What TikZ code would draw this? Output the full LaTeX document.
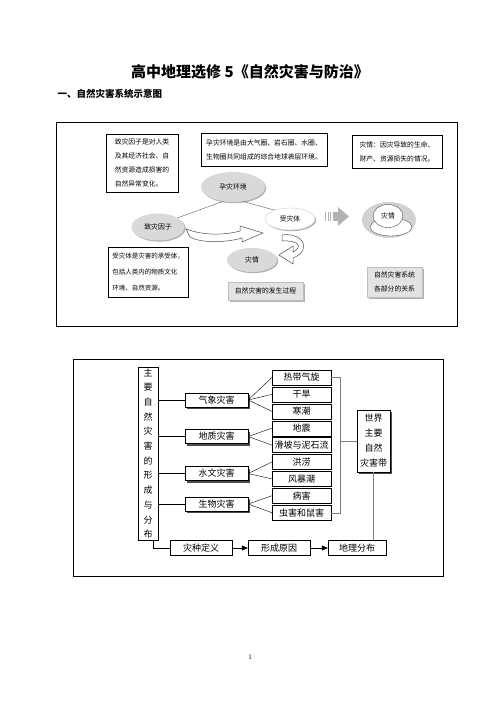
\documentclass[tikz,border=0pt]{standalone}
\usepackage{fontspec}
\setmainfont{Noto Sans CJK SC}
\newfontfamily\numfont{Liberation Serif}
\usetikzlibrary{shapes.geometric,shadows,arrows.meta,positioning}

\begin{document}
\begin{tikzpicture}[x=1pt,y=-1pt,
    notebox/.style={draw,fill=white,inner sep=2pt,align=left,
        font=\fontsize{6.8}{14}\selectfont,
        drop shadow={shadow xshift=1.2pt,shadow yshift=-1.2pt,fill=gray!70,opacity=1}},
    graybox/.style={draw=gray!50,fill=gray!22,inner sep=2pt,align=center,
        font=\fontsize{6.8}{14}\selectfont,
        drop shadow={shadow xshift=1.5pt,shadow yshift=-1.5pt,fill=gray!60,opacity=1}},
    blob/.style={ellipse,fill=gray!30,inner sep=0pt,font=\fontsize{6.8}{7}\selectfont,
        drop shadow={shadow xshift=1.2pt,shadow yshift=-1.2pt,fill=gray!60,opacity=1}},
    fatarrow/.style={draw=gray!60!black,fill=white,line width=0.5pt},
    kind/.style={draw,fill=white,minimum width=63pt,minimum height=14pt,inner sep=0pt,
        font=\fontsize{9}{9}\selectfont,
        drop shadow={shadow xshift=2pt,shadow yshift=-2pt,fill=gray!60!black,opacity=1}},
    item/.style={draw,fill=white,minimum width=59pt,minimum height=15pt,inner sep=0pt,
        font=\fontsize{9}{9}\selectfont}
]
\useasboundingbox (0,0) rectangle (502,708);

% headings
\node[font=\bfseries\fontsize{15}{15}\selectfont] (title) at (250,72) {高中地理选修 5《自然灾害与防治》};
\node[anchor=west,font=\bfseries\fontsize{9.5}{10}\selectfont] (sub) at (54,94) {一、自然灾害系统示意图};

% upper diagram
\draw[line width=1pt] (56,123) rectangle (457,326);

\node[notebox,minimum width=72pt,minimum height=58pt] (zzn) at (142,163)
    {致灾因子是对人类\\及其经济社会、自\\然资源造成损害的\\自然异常变化。};
\node[notebox,minimum width=126pt,minimum height=33pt] (yzn) at (264,149.5)
    {孕灾环境是由大气圈、岩石圈、水圈、\\生物圈共同组成的综合地球表层环境。};
\node[notebox,minimum width=90pt,minimum height=33pt] (zqn) at (397,151.5)
    {灾情：因灾导致的生命、\\财产、资源损失的情况。};
\node[notebox,minimum width=80pt,minimum height=50pt,font=\fontsize{6.5}{16}\selectfont] (stn) at (148,272)
    {受灾体是灾害的承受体，\\包括人类内的物质文化\\环境、自然资源。};
\node[graybox,minimum width=75pt,minimum height=18pt] (gc) at (265.5,291) {自然灾害的发生过程};
\node[graybox,minimum width=55pt,minimum height=30pt] (gx) at (394.5,282) {自然灾害系统\\各部分的关系};

\node[blob,minimum width=64pt,minimum height=30pt] (yz) at (233,187) {孕灾环境};
\node[blob,minimum width=53pt,minimum height=27pt] (zz) at (158,227) {致灾因子};
\node[blob,fill=white,draw=gray!40,minimum width=50pt,minimum height=22pt] (st) at (290,219) {受灾体};
\node[blob,minimum width=50pt,minimum height=24pt] (zq) at (252,260) {灾情};

\draw[gray!70!black] (zz.25) -- (yz.235);
\draw[gray!70!black] (yz.-55) -- (st.150);

% curved arrows
\draw[fatarrow] (186,229) .. controls (205,236) and (225,235) .. (240,231)
    -- (240,226) -- (263,233) -- (242,242) -- (242,238)
    .. controls (225,243) and (200,243) .. (190,237) -- cycle;
\draw[fatarrow] (282,235) .. controls (303,232) and (313,250) .. (293,258)
    -- (293,264) -- (279,255) -- (293,246) -- (293,252)
    .. controls (303,247) and (299,240) .. (282,241) -- cycle;

% striped arrow
\foreach \xs in {325,327.5,330} \fill[gray!60] (\xs,212) rectangle ++(1.2,9);
\fill[gray!60] (332.5,212) rectangle (338,221);
\fill[gray!60] (338,207) -- (349,216.5) -- (338,226) -- cycle;

% disaster circles
\fill[gray!35] (389,220) ellipse [x radius=27, y radius=18];
\draw[gray!60!black,fill=white] (391,227) ellipse [x radius=21, y radius=9];
\node[ellipse,draw=gray!60!black,fill=white,minimum width=30pt,minimum height=23pt,inner sep=0pt,
    font=\fontsize{6.8}{7}\selectfont] (zq2) at (388,216) {灾情};

% lower diagram
\draw[line width=1pt] (73,359) rectangle (443,576);

\node[draw,minimum width=20pt,minimum height=173pt,inner sep=0pt,align=center,
    font=\fontsize{9}{14.7}\selectfont] (zy) at (148,453.5)
    {主\\要\\自\\然\\灾\\害\\的\\形\\成\\与\\分\\布};

\node[kind] (qx) at (216.5,400) {气象灾害};
\node[kind] (dzh) at (216.5,436.5) {地质灾害};
\node[kind] (sw) at (216.5,473.5) {水文灾害};
\node[kind] (sv) at (216.5,504) {生物灾害};

\foreach \k in {qx,dzh,sw,sv}
    \draw (\k.west) -- (\k.west -| zy.east);

\foreach \name/\txt [count=\i from 0] in {rd/热带气旋,gh/干旱,hc/寒潮,dz/地震,hp/滑坡与泥石流,hl/洪涝,fb/风暴潮,bh/病害,ch/虫害和鼠害}
    \node[item] (\name) at (301.5,{377.5+16.9*\i}) {\txt};

\foreach \k/\s in {qx/rd,qx/gh,qx/hc,dzh/dz,dzh/hp,sw/hl,sw/fb,sv/bh,sv/ch}
    \draw (\k.east) -- (\s.west);

\node[draw,fill=white,minimum width=33pt,minimum height=62pt,inner sep=0pt,align=center,
    font=\fontsize{9}{15}\selectfont,
    drop shadow={shadow xshift=2pt,shadow yshift=-2pt,fill=gray!60!black,opacity=1}] (sj) at (373.5,441)
    {世界\\主要\\自然\\灾害带};

\draw[gray] (rd.east) -- ++(9,0) |- (sj.west);
\draw[gray] (ch.east) -- ++(9,0) |- (sj.west);

\node[item,minimum width=62pt] (zd) at (201,548) {灾种定义};
\node[item,minimum width=62pt] (xc) at (279,548) {形成原因};
\node[item,minimum width=58pt] (dl) at (357,548) {地理分布};

\draw ([xshift=5pt]zy.south) |- (zd.west);
\draw[-{Triangle[length=6pt,width=5pt]}] (zd) -- (xc);
\draw[-{Triangle[length=6pt,width=5pt]}] (xc) -- (dl);
\draw[gray] (sj.south) -- (sj.south |- dl.north);

% page number
\node[font=\numfont\fontsize{7}{7}\selectfont] (pg) at (250,657) {1};
\end{tikzpicture}
\end{document}
